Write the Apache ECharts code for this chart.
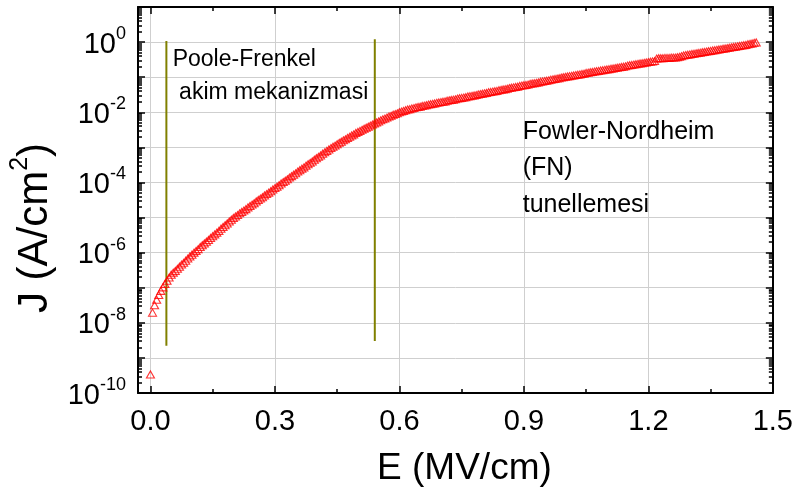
<!DOCTYPE html>
<html><head><meta charset="utf-8">
<script src="https://cdn.jsdelivr.net/npm/echarts@6/dist/echarts.min.js"></script>
<style>html,body{margin:0;padding:0;background:#fff}#c{width:796px;height:501px}</style>
</head><body><div id="c"></div>
<script>
// Electric field E (MV/cm)
const fieldE = [
0,0.005,0.01,0.015,0.02,0.025,0.03,0.035,0.04,0.045,
0.05,0.055,0.06,0.065,0.07,0.075,0.08,0.085,0.09,0.095,
0.1,0.105,0.11,0.115,0.12,0.125,0.13,0.135,0.14,0.145,
0.15,0.155,0.16,0.165,0.17,0.175,0.18,0.185,0.19,0.195,
0.2,0.205,0.21,0.215,0.22,0.225,0.23,0.235,0.24,0.245,
0.25,0.255,0.26,0.265,0.27,0.275,0.28,0.285,0.29,0.295,
0.3,0.305,0.31,0.315,0.32,0.325,0.33,0.335,0.34,0.345,
0.35,0.355,0.36,0.365,0.37,0.375,0.38,0.385,0.39,0.395,
0.4,0.405,0.41,0.415,0.42,0.425,0.43,0.435,0.44,0.445,
0.45,0.455,0.46,0.465,0.47,0.475,0.48,0.485,0.49,0.495,
0.5,0.505,0.51,0.515,0.52,0.525,0.53,0.535,0.54,0.545,
0.55,0.555,0.56,0.565,0.57,0.575,0.58,0.585,0.59,0.595,
0.6,0.605,0.61,0.615,0.62,0.625,0.63,0.635,0.64,0.645,
0.65,0.655,0.66,0.665,0.67,0.675,0.68,0.685,0.69,0.695,
0.7,0.705,0.71,0.715,0.72,0.725,0.73,0.735,0.74,0.745,
0.75,0.755,0.76,0.765,0.77,0.775,0.78,0.785,0.79,0.795,
0.8,0.805,0.81,0.815,0.82,0.825,0.83,0.835,0.84,0.845,
0.85,0.855,0.86,0.865,0.87,0.875,0.88,0.885,0.89,0.895,
0.9,0.905,0.91,0.915,0.92,0.925,0.93,0.935,0.94,0.945,
0.95,0.955,0.96,0.965,0.97,0.975,0.98,0.985,0.99,0.995,
1.0,1.005,1.01,1.015,1.02,1.025,1.03,1.035,1.04,1.045,
1.05,1.055,1.06,1.065,1.07,1.075,1.08,1.085,1.09,1.095,
1.1,1.105,1.11,1.115,1.12,1.125,1.13,1.135,1.14,1.145,
1.15,1.155,1.16,1.165,1.17,1.175,1.18,1.185,1.19,1.195,
1.2,1.205,1.21,1.215,1.22,1.225,1.23,1.235,1.24,1.245,
1.25,1.255,1.26,1.265,1.27,1.275,1.28,1.285,1.29,1.295,
1.3,1.305,1.31,1.315,1.32,1.325,1.33,1.335,1.34,1.345,
1.35,1.355,1.36,1.365,1.37,1.375,1.38,1.385,1.39,1.395,
1.4,1.405,1.41,1.415,1.42,1.425,1.43,1.435,1.44,1.445,
1.45,1.455,1.46
];
// log10 of current density J (A/cm^2)
const logJ = [
-9.47,-7.71,-7.50,-7.34,-7.21,-7.09,-6.99,-6.89,-6.80,-6.71,
-6.63,-6.57,-6.52,-6.46,-6.40,-6.34,-6.29,-6.23,-6.17,-6.11,
-6.06,-6.00,-5.95,-5.90,-5.84,-5.79,-5.74,-5.69,-5.64,-5.58,
-5.53,-5.48,-5.43,-5.38,-5.32,-5.27,-5.22,-5.17,-5.11,-5.06,
-5.01,-4.97,-4.93,-4.88,-4.84,-4.80,-4.76,-4.71,-4.67,-4.63,
-4.59,-4.54,-4.50,-4.46,-4.42,-4.37,-4.33,-4.29,-4.25,-4.20,
-4.16,-4.12,-4.08,-4.03,-3.99,-3.95,-3.91,-3.86,-3.82,-3.78,
-3.74,-3.69,-3.65,-3.61,-3.57,-3.52,-3.48,-3.44,-3.40,-3.35,
-3.31,-3.27,-3.23,-3.18,-3.14,-3.10,-3.06,-3.02,-2.98,-2.95,
-2.91,-2.87,-2.84,-2.80,-2.77,-2.73,-2.70,-2.66,-2.63,-2.59,
-2.56,-2.53,-2.50,-2.47,-2.44,-2.41,-2.38,-2.35,-2.32,-2.29,
-2.26,-2.23,-2.20,-2.18,-2.15,-2.12,-2.10,-2.07,-2.05,-2.03,
-2.00,-1.98,-1.96,-1.94,-1.92,-1.91,-1.89,-1.88,-1.86,-1.85,
-1.84,-1.82,-1.81,-1.80,-1.78,-1.77,-1.76,-1.75,-1.73,-1.72,
-1.71,-1.70,-1.69,-1.67,-1.66,-1.65,-1.64,-1.63,-1.61,-1.60,
-1.59,-1.58,-1.57,-1.55,-1.54,-1.53,-1.52,-1.51,-1.49,-1.48,
-1.47,-1.46,-1.45,-1.43,-1.42,-1.41,-1.40,-1.39,-1.37,-1.36,
-1.35,-1.34,-1.33,-1.31,-1.30,-1.29,-1.28,-1.27,-1.25,-1.24,
-1.23,-1.22,-1.21,-1.19,-1.18,-1.17,-1.16,-1.15,-1.13,-1.12,
-1.11,-1.10,-1.09,-1.07,-1.06,-1.05,-1.04,-1.03,-1.01,-1.00,
-0.99,-0.98,-0.97,-0.96,-0.95,-0.94,-0.93,-0.92,-0.91,-0.90,
-0.88,-0.87,-0.86,-0.85,-0.84,-0.83,-0.82,-0.81,-0.80,-0.79,
-0.78,-0.77,-0.76,-0.75,-0.74,-0.73,-0.72,-0.71,-0.70,-0.69,
-0.67,-0.66,-0.65,-0.64,-0.63,-0.62,-0.61,-0.60,-0.59,-0.58,
-0.57,-0.56,-0.55,-0.54,-0.47,-0.46,-0.46,-0.46,-0.45,-0.45,
-0.45,-0.44,-0.44,-0.44,-0.43,-0.42,-0.40,-0.38,-0.37,-0.36,
-0.35,-0.34,-0.33,-0.32,-0.31,-0.30,-0.29,-0.28,-0.27,-0.26,
-0.25,-0.24,-0.23,-0.22,-0.21,-0.20,-0.19,-0.18,-0.17,-0.16,
-0.15,-0.14,-0.13,-0.12,-0.11,-0.10,-0.09,-0.08,-0.06,-0.05,
-0.04,-0.02,-0.01
];
// Vertical region boundary lines
const boundaryE = [0.0384, 0.5407];
const boundaryLogTop = [0.03, 0.08];
const boundaryLogBottom = [-8.65, -8.52];
// Axis ticks
const xTickValues = [0, 0.3, 0.6, 0.9, 1.2, 1.5];
const xTickLabels = ['0.0', '0.3', '0.6', '0.9', '1.2', '1.5'];
const xMinorValues = [0.15, 0.45, 0.75, 1.05, 1.35];
const yDecadeExponents = [-10, -9, -8, -7, -6, -5, -4, -3, -2, -1, 0];
const yLabelExponents = [-10, -8, -6, -4, -2, 0];
const yMinorMantissas = [2, 3, 4, 5, 6, 7, 8, 9];
// Annotation texts
const regionTexts = ['Poole-Frenkel', ' akim mekanizmasi'];
const fnTexts = ['Fowler-Nordheim', '(FN)', 'tunellemesi'];

const FONT = "'Liberation Sans', Arial, sans-serif";

const yMinorValues = [];
yDecadeExponents.forEach(function (e) {
  yMinorMantissas.forEach(function (m) { yMinorValues.push(m * Math.pow(10, e)); });
});

const points = fieldE.map(function (e, i) { return [e, Math.pow(10, logJ[i])]; });

const boundarySeries = boundaryE.map(function (e, i) {
  return {
    type: 'line', xAxisIndex: 0, yAxisIndex: 0, symbol: 'none', silent: true,
    lineStyle: { color: '#808000', width: 2 },
    data: [[e, Math.pow(10, boundaryLogBottom[i])], [e, Math.pow(10, boundaryLogTop[i])]],
    z: 3
  };
});

const BLACK = '#000';
const xMin = -0.03, xMax = 1.5;
function xAx(pos, values, len, opts) {
  return Object.assign({
    type: 'value', position: pos, min: xMin, max: xMax,
    axisLine: { show: false, onZero: false },
    axisTick: { show: true, inside: true, length: len, customValues: values, lineStyle: { color: BLACK, width: 1.5 } },
    axisLabel: { show: false },
    splitLine: { show: false }
  }, opts || {});
}
function yAx(pos, values, len, opts) {
  const o = {
    type: 'log', logBase: 10, position: pos, min: 1e-10, max: 10,
    axisLine: { show: false, onZero: false },
    axisTick: { show: true, inside: true, length: len, lineStyle: { color: BLACK, width: 1.5 } },
    axisLabel: { show: false },
    splitLine: { show: false }
  };
  if (values) o.axisTick.customValues = values; else o.interval = 1;
  return Object.assign(o, opts || {});
}

const option = {
  animation: false,
  backgroundColor: '#fff',
  grid: { left: 135, right: 23, top: 7, bottom: 108, containLabel: false },
  xAxis: [
    xAx('bottom', xTickValues, 7, {
      axisLine: { show: true, onZero: false, lineStyle: { color: BLACK, width: 2 } },
      axisLabel: {
        show: true, customValues: xTickValues, margin: 14,
        formatter: function (v) { return xTickLabels[xTickValues.indexOf(Math.round(v * 10) / 10)]; },
        fontFamily: FONT, fontSize: 29, color: BLACK
      },
      splitLine: { show: true, lineStyle: { color: '#cfcfcf', width: 1 } },
      name: 'E (MV/cm)', nameLocation: 'middle', nameGap: 57,
      nameTextStyle: { fontFamily: FONT, fontSize: 37, color: BLACK, padding: [0, 0, 0, 18] }
    }),
    xAx('bottom', xMinorValues, 4),
    xAx('top', xTickValues, 7, { axisLine: { show: true, onZero: false, lineStyle: { color: BLACK, width: 2 } } }),
    xAx('top', xMinorValues, 4)
  ],
  yAxis: [
    yAx('left', null, 7, {
      axisLine: { show: true, onZero: false, lineStyle: { color: BLACK, width: 2 } },
      axisLabel: {
        show: true, margin: 12,
        formatter: function (v) {
          const e = Math.round(Math.log10(v));
          return yLabelExponents.indexOf(e) >= 0 ? '{b|10}{s|' + e + '}' : '';
        },
        rich: {
          b: { fontFamily: FONT, fontSize: 29, color: BLACK, lineHeight: 34, verticalAlign: 'bottom' },
          s: { fontFamily: FONT, fontSize: 18, color: BLACK, lineHeight: 20, verticalAlign: 'top' }
        }
      },
      splitLine: { show: true, lineStyle: { color: '#cfcfcf', width: 1 } },
      name: '{t|J (A/cm}{s|2}{t|)}', nameLocation: 'middle', nameGap: 82, nameRotate: 90,
      nameTextStyle: {
        padding: [0, 56, 0, 0],
        rich: {
          t: { fontFamily: FONT, fontSize: 42, color: BLACK, lineHeight: 48, verticalAlign: 'bottom' },
          s: { fontFamily: FONT, fontSize: 25, color: BLACK, lineHeight: 28, verticalAlign: 'top' }
        }
      }
    }),
    yAx('left', yMinorValues, 4),
    yAx('right', null, 7, { axisLine: { show: true, onZero: false, lineStyle: { color: BLACK, width: 2 } } }),
    yAx('right', yMinorValues, 4)
  ],
  graphic: [
    { type: 'text', x: 172.7, y: 59.5, silent: true, z: 10,
      style: { text: regionTexts[0], fontFamily: FONT, fontSize: 23, fill: BLACK, align: 'left', verticalAlign: 'middle' } },
    { type: 'text', x: 172.7, y: 92.5, silent: true, z: 10,
      style: { text: regionTexts[1], fontFamily: FONT, fontSize: 23, fill: BLACK, align: 'left', verticalAlign: 'middle' } },
    { type: 'text', x: 522.7, y: 132.2, silent: true, z: 10,
      style: { text: fnTexts[0], fontFamily: FONT, fontSize: 25, fill: BLACK, align: 'left', verticalAlign: 'middle' } },
    { type: 'text', x: 522.7, y: 168.5, silent: true, z: 10,
      style: { text: fnTexts[1], fontFamily: FONT, fontSize: 25, fill: BLACK, align: 'left', verticalAlign: 'middle' } },
    { type: 'text', x: 522.7, y: 205, silent: true, z: 10,
      style: { text: fnTexts[2], fontFamily: FONT, fontSize: 25, fill: BLACK, align: 'left', verticalAlign: 'middle' } }
  ],
  series: boundarySeries.concat([{
    type: 'scatter', xAxisIndex: 0, yAxisIndex: 0,
    symbol: 'triangle', symbolSize: [8, 7],
    itemStyle: { color: 'rgba(255,255,255,0)', borderColor: '#ff0000', borderWidth: 1.1 },
    data: points, z: 4
  }])
};

const chart = echarts.init(document.getElementById('c'), null, { renderer: 'canvas' });
chart.setOption(option);
</script>
</body></html>
